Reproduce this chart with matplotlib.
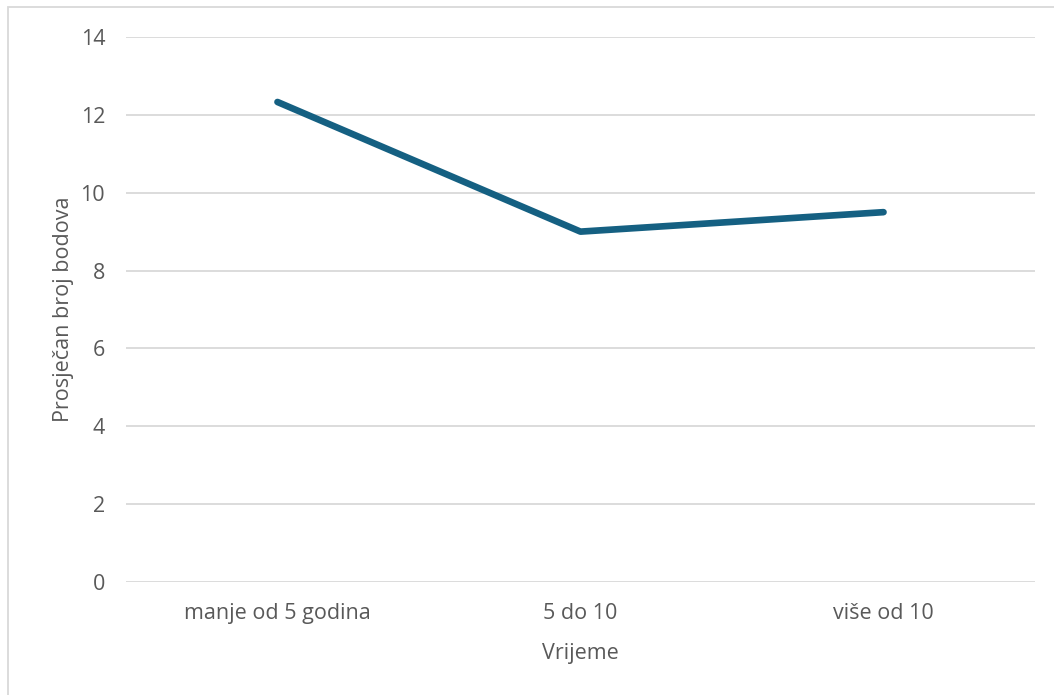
import matplotlib
matplotlib.use("Agg")
import matplotlib.pyplot as plt
from matplotlib.patches import Rectangle

# ---- DATA ----------------------------------------------------------------
categories = ["manje od 5 godina", "5 do 10", "više od 10"]
avg_points = [12.33, 9.0, 9.5]
y_ticks = [0, 2, 4, 6, 8, 10, 12, 14]

TEXT = "#595959"
LINE = "#156082"
GRID = "#d9d9d9"
FS = 15.5

plt.rcParams["font.family"] = ["Open Sans", "DejaVu Sans"]

fig = plt.figure(figsize=(10.54, 6.95), dpi=100)
ax = fig.add_axes([0.1195, 0.1626, 0.8625, 0.7842])

x = list(range(len(categories)))
ax.plot(x, avg_points, color=LINE, lw=4.8, solid_capstyle="round",
        solid_joinstyle="round", zorder=3)

ax.set_xlim(-0.5, len(categories) - 0.5)
ax.set_ylim(0, 14)
ax.set_yticks(y_ticks)
ax.set_xticks(x)
ax.set_xticklabels(categories)
ax.grid(axis="y", color=GRID, lw=1.3)
ax.set_axisbelow(True)
for s in ax.spines.values():
    s.set_visible(False)
ax.tick_params(length=0, colors=TEXT, labelsize=FS)
ax.tick_params(axis="y", pad=15)
ax.tick_params(axis="x", pad=15)

ax.set_xlabel("Vrijeme", color=TEXT, fontsize=FS, labelpad=14)
ax.set_ylabel("Prosječan broj bodova", color=TEXT, fontsize=FS, labelpad=5)

# chart border (right and bottom edges fall outside the image)
fig.patches.append(Rectangle((7.5 / 1054, -0.05), 1.1, 1.05 - 7.5 / 695,
                             transform=fig.transFigure, fill=False,
                             edgecolor=GRID, lw=1.3))

fig.savefig("out.png", dpi=100)
